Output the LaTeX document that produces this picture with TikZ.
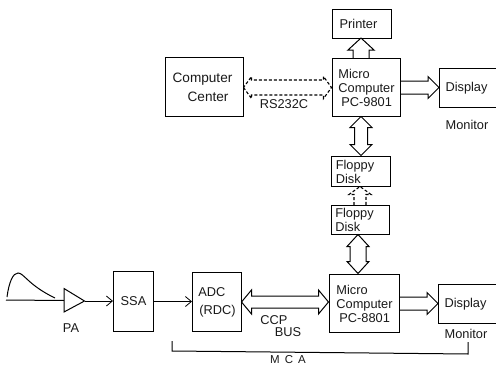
\documentclass[tikz,border=0pt]{standalone}
\usepackage{fontspec}
\setmainfont{Liberation Sans}
\usetikzlibrary{calc,arrows.meta}
\tikzset{
  x=1pt,y=-1pt,
  every node/.style={font=\fontsize{12.8}{14}\selectfont,text=black!90},
  boxnode/.style={draw=black,line width=1pt,inner sep=0pt,anchor=north west,align=left},
  lab/.style={inner sep=0pt},
  fat/.style={draw,line width=1pt,line join=miter},
  fatdash/.style={draw,line width=1.1pt,dash pattern=on 3pt off 2pt},
  thinarrow/.style={line width=1pt,-{Straight Barb[length=6pt,width=10pt,line width=0.8pt]}}
}
% #1 style, #2 start, #3 tip, #4 head length, #5 half shaft, #6 half head
\newcommand\fatone[6]{%
  \coordinate (fs) at #2; \coordinate (fe) at #3;
  \coordinate (fb) at ($(fe)!#4pt!(fs)$);
  \draw[#1] ($(fs)!#5pt!90:(fe)$) -- ($(fb)!#5pt!90:(fe)$) -- ($(fb)!#6pt!90:(fe)$) -- (fe)
    -- ($(fb)!#6pt!-90:(fe)$) -- ($(fb)!#5pt!-90:(fe)$) -- ($(fs)!#5pt!-90:(fe)$);
}
\newcommand\fatboth[6]{%
  \coordinate (fs) at #2; \coordinate (fe) at #3;
  \coordinate (fb) at ($(fe)!#4pt!(fs)$);
  \coordinate (fa) at ($(fs)!#4pt!(fe)$);
  \draw[#1] (fs) -- ($(fa)!#6pt!-90:(fe)$) -- ($(fa)!#5pt!-90:(fe)$) -- ($(fb)!#5pt!90:(fs)$)
    -- ($(fb)!#6pt!90:(fs)$) -- (fe) -- ($(fb)!#6pt!-90:(fs)$) -- ($(fb)!#5pt!-90:(fs)$)
    -- ($(fa)!#5pt!90:(fe)$) -- ($(fa)!#6pt!90:(fe)$) -- cycle;
}
\begin{document}
\begin{tikzpicture}
\useasboundingbox (0,0) rectangle (496,367);
\clip (0,0) rectangle (496,367);
% boxes
\node[boxnode,minimum width=59,minimum height=29] (printer) at (332,9) {Printer\hspace*{7pt}};
\node[boxnode,minimum width=78,minimum height=59,font=\fontsize{13.6}{15}\selectfont] (center) at (165,57) {Computer\hspace*{4pt}\\[4pt]\hspace*{15pt}Center\hspace*{4pt}};
\node[boxnode,minimum width=68,minimum height=58] (mc9) at (332,58) {Micro\\Computer\\\hspace*{3pt}PC-9801};
\node[boxnode,minimum width=62,minimum height=39] (d1) at (439,68) {\hspace*{-8pt}Display};
\node[boxnode,minimum width=59,minimum height=30] (fd1) at (331,156) {Floppy\hspace*{12pt}\\Disk};
\node[boxnode,minimum width=58,minimum height=29] (fd2) at (331,205) {Floppy\hspace*{12pt}\\Disk};
\node[boxnode,minimum width=70,minimum height=58] (mc8) at (329,274) {Micro\\Computer\\\hspace*{3pt}PC-8801};
\node[boxnode,minimum width=62,minimum height=39] (d2) at (438,284) {\hspace*{-8pt}Display};
\node[boxnode,minimum width=40,minimum height=60] (ssa) at (113,271) {SSA};
\node[boxnode,minimum width=49,minimum height=59] (adc) at (192,272) {ADC\\[4pt]\hspace*{1pt}(RDC)};
% labels
\node[lab] (lrs) at (284,104) {RS232C};
\node[lab] (lm1) at (467,125) {Monitor};
\node[lab] (lpa) at (71,328) {PA};
\node[lab] (lccp) at (274,320) {CCP};
\node[lab] (lbus) at (288,332) {BUS};
\node[lab] (lm2) at (466,334) {Monitor};
\node[lab,font=\fontsize{11.5}{13}\selectfont] (lmca) at (288,359.5) {M\hspace{5pt}C\hspace{5pt}A};
% amplifier and signal
\coordinate (pain) at (64,300.5);
\coordinate (patip) at (84.5,301);
\coordinate (sigstart) at (6,300);
\draw[line width=1pt,line join=miter] (64,288.5) -- (64,312) -- (patip) -- cycle;
\draw[line width=1pt] (sigstart) -- (pain);
\draw[line width=1pt] (7,297) .. controls (9,282) and (13,273) .. (18,273) .. controls (24,273) and (28,285) .. (55,298);
% thin arrows
\draw[thinarrow] (patip) -- (patip -| ssa.west);
\draw[thinarrow] (ssa.east) -- (ssa.east -| adc.west);
% fat arrows
\fatone{fat}{(361,58)}{(361,38)}{12}{8}{13}
\fatone{fat}{(mc9.east)}{(mc9.east -| d1.west)}{11}{6.5}{11}
\fatone{fat}{(mc8.east)}{(mc8.east -| d2.west)}{11}{6.5}{11}
\fatboth{fat}{(361,116.5)}{(361,155.5)}{11}{6.5}{11}
\fatboth{fat}{(358,234.5)}{(358,273.5)}{12}{8}{11}
\fatboth{fat}{(241.5,302)}{(328.5,302)}{10}{6}{12}
\fatboth{fatdash}{(243.5,87.5)}{(331.5,87.5)}{8}{7.5}{11}
\fatone{fatdash}{(360,205)}{(360,186.5)}{8}{6}{11}
% MCA bracket
\coordinate (brA) at (172,341);
\coordinate (brB) at (468,342);
\draw[line width=1pt] (brA) -- (172,351) -- (468,354) -- (brB);
\end{tikzpicture}
\end{document}
